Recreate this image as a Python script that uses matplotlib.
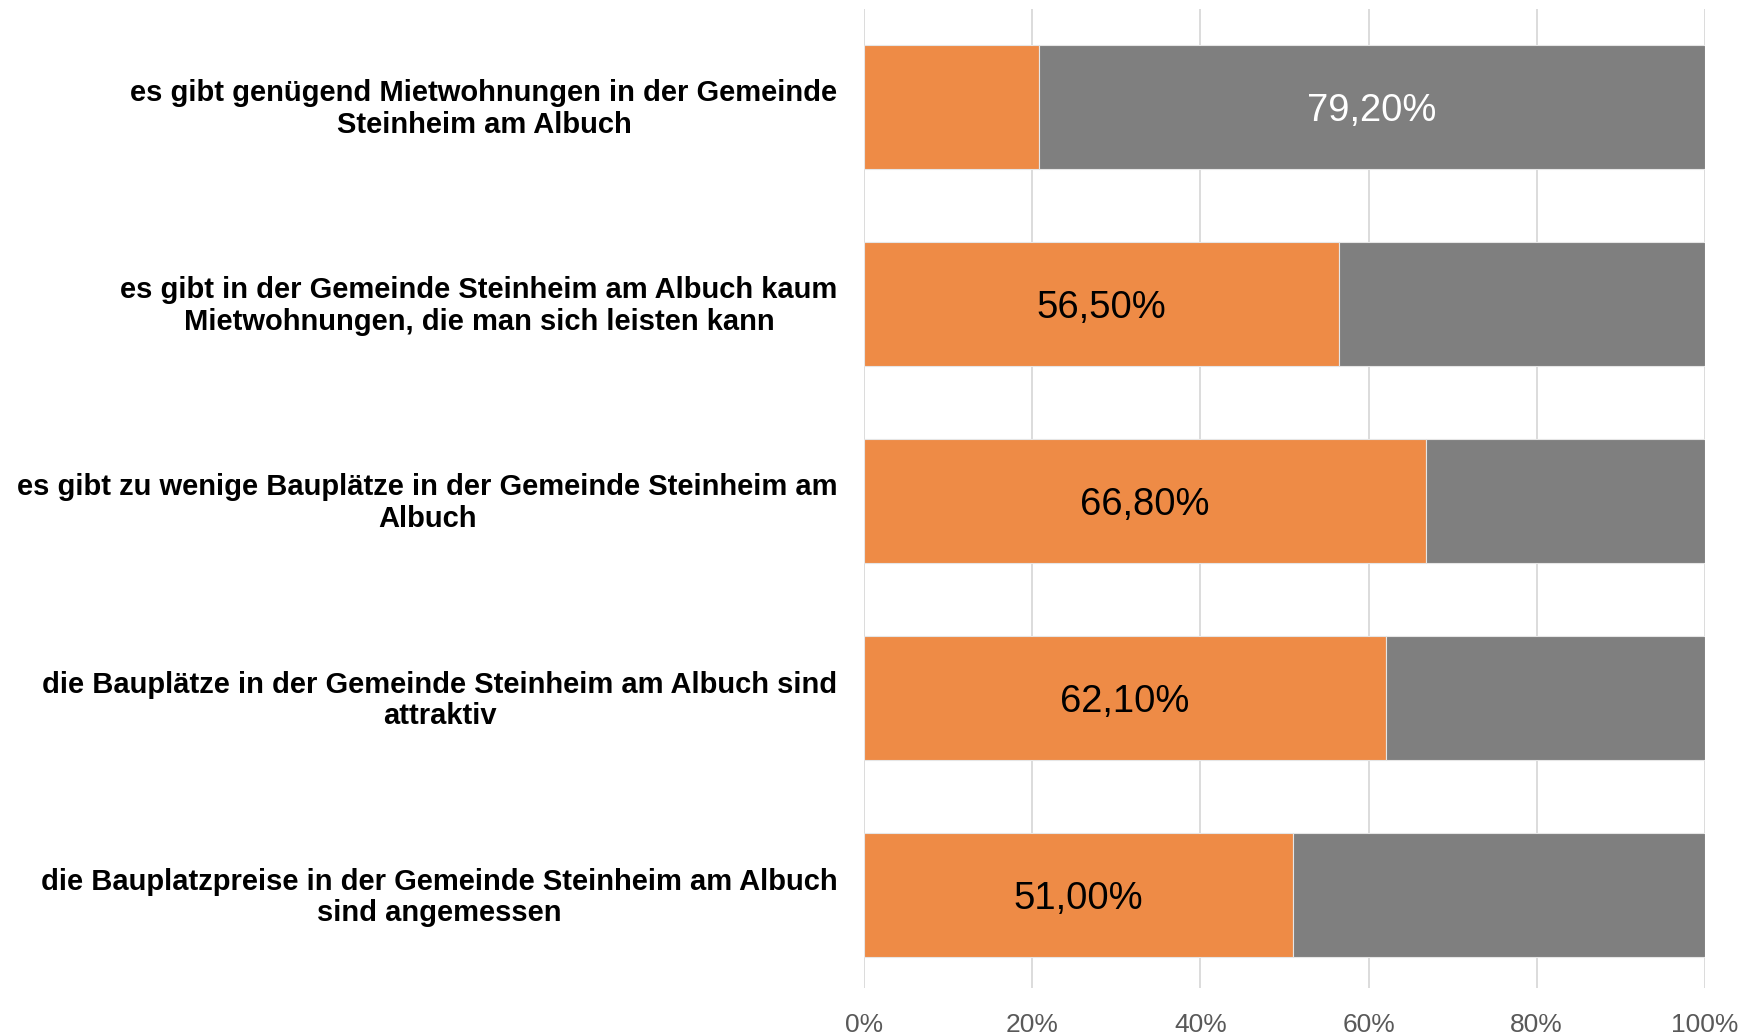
import matplotlib.pyplot as plt
import matplotlib.transforms as mtransforms
from matplotlib.ticker import FuncFormatter

plt.rcParams["font.family"] = ["Liberation Sans", "DejaVu Sans"]

# Data
statements = [
    "es gibt genügend Mietwohnungen in der Gemeinde\nSteinheim am Albuch",
    "es gibt in der Gemeinde Steinheim am Albuch kaum\nMietwohnungen, die man sich leisten kann",
    "es gibt zu wenige Bauplätze in der Gemeinde Steinheim am\nAlbuch",
    "die Bauplätze in der Gemeinde Steinheim am Albuch sind\nattraktiv",
    "die Bauplatzpreise in der Gemeinde Steinheim am Albuch\nsind angemessen",
]
agree = [20.8, 56.5, 66.8, 62.1, 51.0]
disagree = [79.2, 43.5, 33.2, 37.9, 49.0]
# which segment carries the value label in each row
labeled = ["disagree", "agree", "agree", "agree", "agree"]
xticks = [0, 20, 40, 60, 80, 100]

ORANGE = "#EE8B46"
GREY = "#7F7F7F"

fig = plt.figure(figsize=(17.44, 10.35), dpi=100)
ax = fig.add_axes([0.4954, 0.0454, 0.4822, 0.9459])

y = list(range(len(statements)))
h = 0.627
ax.barh(y, agree, height=h, color=ORANGE, edgecolor="#E6E6E6", linewidth=0.8, zorder=3)
ax.barh(y, disagree, left=agree, height=h, color=GREY, edgecolor="#E6E6E6", linewidth=0.8, zorder=3)

for i, which in enumerate(labeled):
    if which == "agree":
        val, left, col = agree[i], 0, "black"
    else:
        val, left, col = disagree[i], agree[i], "white"
    ax.text(left + val / 2, i, f"{val:.2f}%".replace(".", ","), ha="center",
            va="center_baseline", fontsize=27.5, color=col, zorder=4)

ax.set_xlim(0, 100)
ax.set_ylim(4.471, -0.496)
ax.set_xticks(xticks)
ax.xaxis.set_major_formatter(FuncFormatter(lambda v, p: f"{v:.0f}%"))
ax.set_yticks(y)
ax.set_yticklabels(statements, fontsize=21, fontweight="bold", multialignment="center",
                   linespacing=1.15)
ax.tick_params(axis="x", length=0, pad=18, labelsize=19, labelcolor="#595959")
ax.tick_params(axis="y", length=0, pad=19)
ax.grid(axis="x", color="#D9D9D9", linewidth=1.3, zorder=0)
for s in ax.spines.values():
    s.set_visible(False)

# nudge the category labels up a touch
shift = mtransforms.ScaledTranslation(0, 2.5 / 100, fig.dpi_scale_trans)
for lbl in ax.get_yticklabels():
    lbl.set_transform(lbl.get_transform() + shift)

fig.savefig("out.png", dpi=100, facecolor="white")
